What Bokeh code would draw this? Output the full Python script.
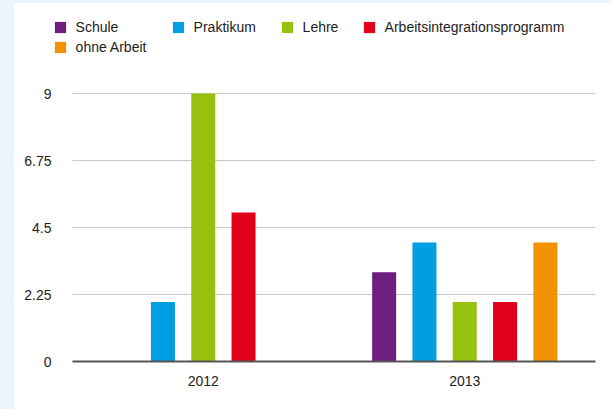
from bokeh.plotting import figure
from bokeh.models import (ColumnDataSource, Range1d, FixedTicker, Div,
                          CustomJSTickFormatter, Legend, LegendItem)
from bokeh.layouts import column, row
from bokeh.transform import dodge
from bokeh.embed import file_html
from bokeh.resources import INLINE

years = ["2012", "2013"]
series = ["Schule", "Praktikum", "Lehre", "Arbeitsintegrationsprogramm", "ohne Arbeit"]
schule = [0, 3]
praktikum = [2, 4]
lehre = [9, 2]
arbeit = [5, 2]
ohne = [0, 4]
colors = ["#6C1F7E", "#009FE3", "#97C10E", "#E2001A", "#F39200"]
y_ticks = [0, 2.25, 4.5, 6.75, 9]

FONT = "Liberation Sans"
TXT = "#222222"
BG = "#EBF5FC"

# layout (pixels)
W, H = 598, 406
FL, FR, FT, FB = 36, 17, 7, 48           # borders around the frame
frame_w = W - FL - FR                    # 545
frame_h = H - FT - FB                    # 351
cat_px = 261.5                           # width of one year category
px_per_unit = 268 / 9                    # y scale
x_start = -(22 / cat_px)                 # frame starts 22px left of first category
y_end = frame_h / px_per_unit

xc = [i + 0.5 for i in range(len(years))]
source = ColumnDataSource(dict(xc=xc, s0=schule, s1=praktikum, s2=lehre, s3=arbeit, s4=ohne))

p = figure(x_range=Range1d(x_start, len(years)), y_range=Range1d(0, y_end),
           width=W, height=H, output_backend="svg", toolbar_location=None,
           min_border_left=FL, min_border_right=FR, min_border_top=FT, min_border_bottom=FB,
           margin=0)
p.background_fill_color = "white"
p.border_fill_color = "white"
p.outline_line_color = None
p.xgrid.grid_line_color = None
p.ygrid.grid_line_color = None

# horizontal grid lines over the category span only
grid_y = y_ticks[1:]
p.segment(x0=[0] * len(grid_y), x1=[len(years)] * len(grid_y), y0=grid_y, y1=grid_y,
          line_color="#C8C8C8", line_width=1)

step = 40.3 / cat_px
offsets = [-2 * step, -step, 0.0, step, 2 * step]
renderers = []
for i, name in enumerate(series):
    r = p.vbar(x=dodge("xc", offsets[i]), top="s%d" % i, bottom=0,
               width=24 / cat_px, source=source, fill_color=colors[i], line_color=None)
    renderers.append(r)

# x axis
p.xaxis.bounds = (0, len(years))
p.xaxis.axis_line_color = "#555555"
p.xaxis.axis_line_width = 2
p.xaxis.major_tick_line_color = None
p.xaxis.minor_tick_line_color = None
p.xaxis.ticker = FixedTicker(ticks=xc)
p.xaxis.formatter = CustomJSTickFormatter(args=dict(labels=years),
                                          code="return labels[Math.floor(tick)];")
p.xaxis.major_label_standoff = 8
p.xaxis.major_label_text_font = FONT
p.xaxis.major_label_text_font_size = "14px"
p.xaxis.major_label_text_color = TXT

# y axis
p.yaxis.axis_line_color = None
p.yaxis.major_tick_line_color = None
p.yaxis.minor_tick_line_color = None
p.yaxis.ticker = FixedTicker(ticks=y_ticks)
p.yaxis.formatter = CustomJSTickFormatter(code="return tick.toString();")
p.yaxis.major_label_standoff = -7
p.yaxis.major_label_text_font = FONT
p.yaxis.major_label_text_font_size = "14px"
p.yaxis.major_label_text_color = TXT

# legend entries laid out like the reference (two rows)
leg_pos = [(2.6, 326.4), (120.6, 326.4), (229.6, 326.4), (311.6, 326.4), (2.6, 306.4)]
for i, name in enumerate(series):
    lg = Legend(items=[LegendItem(label=name, renderers=[renderers[i]])],
                location=leg_pos[i], orientation="horizontal",
                glyph_width=14, glyph_height=14, label_standoff=9,
                label_height=14, padding=0, margin=0, spacing=0,
                border_line_color=None, background_fill_alpha=0,
                label_text_font=FONT, label_text_font_size="14px",
                label_text_color=TXT)
    p.add_layout(lg, "center")

top_strip = Div(width=612, height=3, margin=0, styles={"background-color": BG})
left_strip = Div(width=14, height=H, margin=0, styles={"background-color": BG})
layout = column(top_strip, row(left_strip, p, spacing=0, margin=0), spacing=0, margin=0)

open("out.html", "w").write(file_html(layout, INLINE))
